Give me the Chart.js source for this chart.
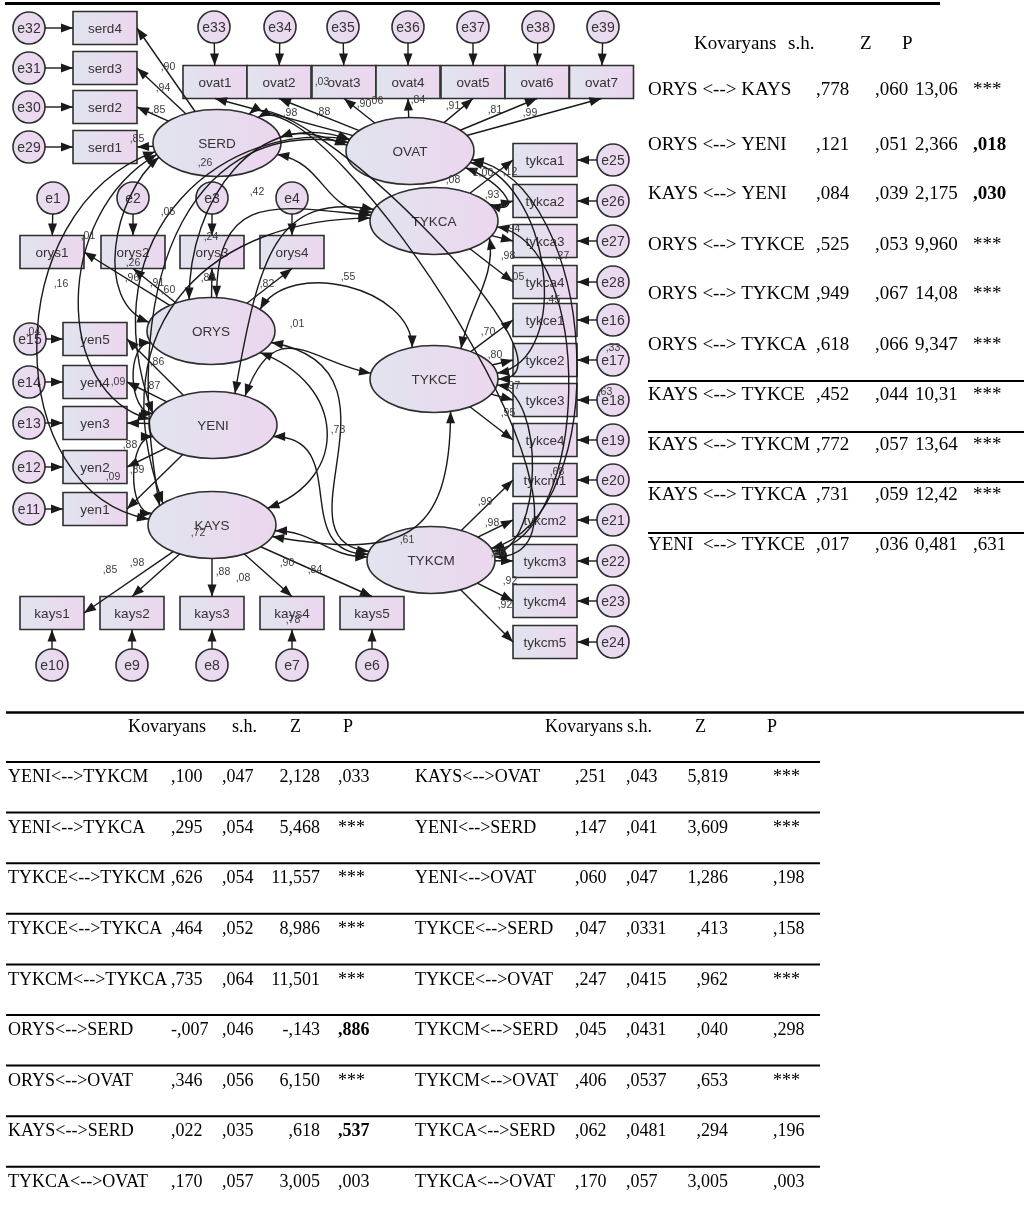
<!DOCTYPE html>
<html lang="tr">
<head>
<meta charset="utf-8">
<title>Kovaryans modeli</title>
<script src="https://cdn.jsdelivr.net/npm/chart.js@4.4.1/dist/chart.umd.min.js"></script>
<style>
html,body{margin:0;padding:0;background:#ffffff;}
canvas{display:block;}
</style>
</head>
<body>
<canvas id="sem" width="1024" height="1212"></canvas>
<script>
// ---------- latent factors ----------
const latentNames = ['SERD', 'OVAT', 'TYKCA', 'ORYS', 'TYKCE', 'YENI', 'KAYS', 'TYKCM'];
const latentX = [217, 410, 434, 211, 434, 213, 212, 431];
const latentY = [143, 151, 221, 331, 379, 425, 525, 560];

// ---------- observed indicators ----------
const indicatorNames = ['serd4', 'serd3', 'serd2', 'serd1',
  'ovat1', 'ovat2', 'ovat3', 'ovat4', 'ovat5', 'ovat6', 'ovat7',
  'tykca1', 'tykca2', 'tykca3', 'tykca4', 'tykce1', 'tykce2', 'tykce3', 'tykce4',
  'tykcm1', 'tykcm2', 'tykcm3', 'tykcm4', 'tykcm5',
  'orys1', 'orys2', 'orys3', 'orys4',
  'yen5', 'yen4', 'yen3', 'yen2', 'yen1',
  'kays1', 'kays2', 'kays3', 'kays4', 'kays5'];
const indicatorFactor = ['SERD', 'SERD', 'SERD', 'SERD',
  'OVAT', 'OVAT', 'OVAT', 'OVAT', 'OVAT', 'OVAT', 'OVAT',
  'TYKCA', 'TYKCA', 'TYKCA', 'TYKCA', 'TYKCE', 'TYKCE', 'TYKCE', 'TYKCE',
  'TYKCM', 'TYKCM', 'TYKCM', 'TYKCM', 'TYKCM',
  'ORYS', 'ORYS', 'ORYS', 'ORYS',
  'YENI', 'YENI', 'YENI', 'YENI', 'YENI',
  'KAYS', 'KAYS', 'KAYS', 'KAYS', 'KAYS'];
const indicatorX = [105, 105, 105, 105,
  215, 279, 344, 408, 473, 537, 601.5,
  545, 545, 545, 545, 545, 545, 545, 545,
  545, 545, 545, 545, 545,
  52, 133, 212, 292,
  95, 95, 95, 95, 95,
  52, 132, 212, 292, 372];
const indicatorY = [28, 68, 107, 147,
  82, 82, 82, 82, 82, 82, 82,
  160, 201, 241, 282, 320, 360, 400, 440,
  480, 520, 561, 601, 642,
  252, 252, 252, 252,
  339, 382, 423, 467, 509,
  613, 613, 613, 613, 613];

// ---------- error terms (one per indicator, same order) ----------
const errorNames = ['e32', 'e31', 'e30', 'e29',
  'e33', 'e34', 'e35', 'e36', 'e37', 'e38', 'e39',
  'e25', 'e26', 'e27', 'e28', 'e16', 'e17', 'e18', 'e19',
  'e20', 'e21', 'e22', 'e23', 'e24',
  'e1', 'e2', 'e3', 'e4',
  'e15', 'e14', 'e13', 'e12', 'e11',
  'e10', 'e9', 'e8', 'e7', 'e6'];
const errorX = [29, 29, 29, 29,
  214, 280, 343, 408, 473, 538, 603,
  613, 613, 613, 613, 613, 613, 613, 613,
  613, 613, 613, 613, 613,
  53, 133, 212, 292,
  30, 29, 29, 29, 29,
  52, 132, 212, 292, 372];
const errorY = [28, 68, 107, 147,
  27, 27, 27, 27, 27, 27, 27,
  160, 201, 241, 282, 320, 360, 400, 440,
  480, 520, 561, 601, 642,
  198, 198, 198, 198,
  339, 382, 423, 467, 509,
  665, 665, 665, 665, 665];

// ---------- factor covariances (double-headed paths) ----------
const covPairs = [
  ['SERD', 'OVAT'], ['SERD', 'TYKCA'], ['SERD', 'ORYS'], ['SERD', 'YENI'], ['SERD', 'KAYS'],
  ['SERD', 'TYKCE'], ['SERD', 'TYKCM'],
  ['OVAT', 'TYKCA'], ['OVAT', 'ORYS'], ['OVAT', 'YENI'], ['OVAT', 'KAYS'], ['OVAT', 'TYKCE'], ['OVAT', 'TYKCM'],
  ['TYKCA', 'ORYS'], ['TYKCA', 'YENI'], ['TYKCA', 'KAYS'], ['TYKCA', 'TYKCE'], ['TYKCA', 'TYKCM'],
  ['ORYS', 'YENI'], ['ORYS', 'KAYS'], ['ORYS', 'TYKCE'], ['ORYS', 'TYKCM'],
  ['TYKCE', 'YENI'], ['TYKCE', 'KAYS'], ['TYKCE', 'TYKCM'],
  ['YENI', 'KAYS'], ['YENI', 'TYKCM'],
  ['KAYS', 'TYKCM']];

// ---------- estimates printed on the diagram ----------
const estText = [',90', ',94', ',85', ',85', ',26',
  ',03', ',98', ',88', ',90', ',06', ',84', ',91', ',81', ',99', ',08',
  '1,00', ',12', ',93', ',94', ',98', ',27', ',05', ',45',
  ',70', ',80', ',33', ',97', ',63', ',95',
  ',68', ',99', ',98', ',96', ',92', ',92', ',61', ',73',
  ',01', ',16', ',26', ',96', ',91', ',60', ',83', ',24', ',05', ',42', ',82', ',01', ',55',
  ',04', ',09', ',87', ',86', ',88', ',89', ',09',
  ',72', ',85', ',98', ',88', ',08', ',90', ',84', ',78'];
const estX = [168, 163, 158, 137, 205,
  322, 290, 323, 364, 376, 418, 453, 495, 530, 453,
  483, 510, 492, 513, 508, 562, 517, 553,
  488, 495, 613, 513, 605, 508,
  557, 485, 492, 498, 510, 505, 407, 338,
  88, 61, 133, 132, 157, 168, 208, 211, 168, 257, 267, 297, 348,
  33, 118, 153, 157, 130, 137, 113,
  198, 110, 137, 223, 243, 287, 315, 293];
const estY = [67, 88, 110, 139, 163,
  82, 113, 112, 104, 101, 100, 106, 110, 113, 180,
  173, 172, 195, 229, 256, 256, 277, 300,
  332, 355, 348, 386, 392, 413,
  472, 502, 523, 553, 581, 605, 540, 430,
  236, 284, 263, 278, 283, 290, 278, 237, 212, 192, 284, 324, 277,
  332, 382, 386, 362, 445, 470, 477,
  533, 570, 563, 572, 578, 563, 570, 620];

// ---------- covariance table, upper right ----------
const topPairs = ['ORYS <--> KAYS', 'ORYS <--> YENI', 'KAYS <--> YENI', 'ORYS <--> TYKCE', 'ORYS <--> TYKCM',
  'ORYS <--> TYKCA', 'KAYS <--> TYKCE', 'KAYS <--> TYKCM', 'KAYS <--> TYKCA', 'YENI  <--> TYKCE'];
const topCov = [',778', ',121', ',084', ',525', ',949', ',618', ',452', ',772', ',731', ',017'];
const topSE = [',060', ',051', ',039', ',053', ',067', ',066', ',044', ',057', ',059', ',036'];
const topZ = ['13,06', '2,366', '2,175', '9,960', '14,08', '9,347', '10,31', '13,64', '12,42', '0,481'];
const topP = ['***', ',018', ',030', '***', '***', '***', '***', '***', '***', ',631'];
const topPBold = [false, true, true, false, false, false, false, false, false, false];

// ---------- covariance table, bottom (two halves) ----------
const leftPairs = ['YENI<-->TYKCM', 'YENI<-->TYKCA', 'TYKCE<-->TYKCM', 'TYKCE<-->TYKCA', 'TYKCM<-->TYKCA',
  'ORYS<-->SERD', 'ORYS<-->OVAT', 'KAYS<-->SERD', 'TYKCA<-->OVAT'];
const leftCov = [',100', ',295', ',626', ',464', ',735', '-,007', ',346', ',022', ',170'];
const leftSE = [',047', ',054', ',054', ',052', ',064', ',046', ',056', ',035', ',057'];
const leftZ = ['2,128', '5,468', '11,557', '8,986', '11,501', '-,143', '6,150', ',618', '3,005'];
const leftP = [',033', '***', '***', '***', '***', ',886', '***', ',537', ',003'];
const leftPBold = [false, false, false, false, false, true, false, true, false];

const rightPairs = ['KAYS<-->OVAT', 'YENI<-->SERD', 'YENI<-->OVAT', 'TYKCE<-->SERD', 'TYKCE<-->OVAT',
  'TYKCM<-->SERD', 'TYKCM<-->OVAT', 'TYKCA<-->SERD', 'TYKCA<-->OVAT'];
const rightCov = [',251', ',147', ',060', ',047', ',247', ',045', ',406', ',062', ',170'];
const rightSE = [',043', ',041', ',047', ',0331', ',0415', ',0431', ',0537', ',0481', ',057'];
const rightZ = ['5,819', '3,609', '1,286', ',413', ',962', ',040', ',653', ',294', '3,005'];
const rightP = ['***', '***', ',198', ',158', '***', ',298', '***', ',196', ',003'];

const tableHeader = ['Kovaryans', 's.h.', 'Z', 'P'];

// ---------- drawing layout ----------
const SHAPE = { rx: 64, ry: 33.5, w: 64, h: 33, r: 16 };
const INK = '#1a1a1a';
const FILL_L = '#e1e4ee', FILL_R = '#ecd6ef';
const DIAG_FONT = '"Liberation Sans", Arial, sans-serif';
const TAB_FONT = '"Liberation Serif", "Times New Roman", serif';

// side of each indicator that receives the loading arrow
const loadingPort = { SERD: 'R', OVAT: 'B', TYKCA: 'L', TYKCE: 'L', TYKCM: 'L', ORYS: 'B', YENI: 'R', KAYS: 'T' };
const portOverride = { kays1: 'R', orys1: 'R' };

// route of each covariance curve: [angleA, dirA, lenA, angleB, dirB, lenB]
const arcRoute = {
  'SERD|OVAT': [350, 340, 25, 190, 200, 25],
  'SERD|TYKCA': [20, 10, 50, 195, 180, 50],
  'SERD|ORYS': [155, 140, 60, 195, 200, 60],
  'SERD|YENI': [160, 150, 120, 190, 195, 100],
  'SERD|KAYS': [165, 160, 170, 190, 190, 150],
  'SERD|TYKCE': [300, 320, 60, 0, 0, 100],
  'SERD|TYKCM': [310, 330, 80, 355, 0, 150],
  'OVAT|TYKCA': [30, 20, 40, 330, 20, 40],
  'OVAT|ORYS': [200, 200, 100, 250, 270, 100],
  'OVAT|YENI': [200, 190, 120, 200, 250, 200],
  'OVAT|KAYS': [195, 190, 150, 215, 260, 250],
  'OVAT|TYKCE': [20, 10, 80, 350, 350, 80],
  'OVAT|TYKCM': [15, 10, 130, 340, 345, 130],
  'TYKCA|ORYS': [190, 185, 90, 275, 270, 110],
  'TYKCA|YENI': [200, 190, 100, 290, 280, 140],
  'TYKCA|KAYS': [185, 180, 150, 220, 250, 200],
  'TYKCA|TYKCE': [30, 80, 40, 295, 280, 40],
  'TYKCA|TYKCM': [10, 10, 100, 345, 350, 100],
  'ORYS|YENI': [160, 180, 25, 200, 180, 25],
  'ORYS|KAYS': [40, 20, 90, 330, 340, 90],
  'ORYS|TYKCE': [320, 300, 60, 250, 270, 60],
  'ORYS|TYKCM': [20, 10, 150, 195, 185, 100],
  'TYKCE|YENI': [190, 190, 60, 300, 290, 90],
  'TYKCE|KAYS': [75, 90, 130, 20, 10, 130],
  'TYKCE|TYKCM': [10, 10, 50, 350, 350, 50],
  'YENI|KAYS': [160, 180, 25, 200, 180, 25],
  'YENI|TYKCM': [20, 0, 80, 190, 180, 80],
  'KAYS|TYKCM': [10, 0, 40, 185, 180, 40]
};

const rad = d => d * Math.PI / 180;

const semPlugin = {
  id: 'semDiagram',
  afterDatasetsDraw(chart) {
    const ctx = chart.ctx;
    const xs = chart.scales.x, ys = chart.scales.y;
    const PX = v => xs.getPixelForValue(v);
    const PY = v => ys.getPixelForValue(v);

    // node centres come from the scatter elements
    const pos = {};
    const mL = chart.getDatasetMeta(0), mI = chart.getDatasetMeta(1), mE = chart.getDatasetMeta(2);
    latentNames.forEach((n, i) => { pos[n] = { x: mL.data[i].x, y: mL.data[i].y }; });
    indicatorNames.forEach((n, i) => { pos[n] = { x: mI.data[i].x, y: mI.data[i].y }; });
    errorNames.forEach((n, i) => { pos[n] = { x: mE.data[i].x, y: mE.data[i].y }; });

    const grad = (x0, x1) => {
      const g = ctx.createLinearGradient(x0, 0, x1, 0);
      g.addColorStop(0, FILL_L); g.addColorStop(1, FILL_R); return g;
    };

    ctx.save();
    ctx.lineJoin = 'miter';

    // ---- shapes ----
    ctx.lineWidth = 1.6;
    ctx.strokeStyle = '#2e2e2e';
    latentNames.forEach(n => {
      const p = pos[n];
      ctx.beginPath();
      ctx.ellipse(p.x, p.y, SHAPE.rx, SHAPE.ry, 0, 0, Math.PI * 2);
      ctx.fillStyle = grad(p.x - SHAPE.rx, p.x + SHAPE.rx);
      ctx.fill(); ctx.stroke();
    });
    indicatorNames.forEach(n => {
      const p = pos[n];
      ctx.beginPath();
      ctx.rect(p.x - SHAPE.w / 2, p.y - SHAPE.h / 2, SHAPE.w, SHAPE.h);
      ctx.fillStyle = grad(p.x - SHAPE.w / 2, p.x + SHAPE.w / 2);
      ctx.fill(); ctx.stroke();
    });
    errorNames.forEach(n => {
      const p = pos[n];
      ctx.beginPath();
      ctx.arc(p.x, p.y, SHAPE.r, 0, Math.PI * 2);
      const g = ctx.createLinearGradient(p.x - SHAPE.r, 0, p.x + SHAPE.r, 0);
      g.addColorStop(0, '#e6deef'); g.addColorStop(1, '#edd6f0');
      ctx.fillStyle = g;
      ctx.fill(); ctx.stroke();
    });

    // ---- shape captions ----
    ctx.fillStyle = '#333';
    ctx.textAlign = 'center';
    ctx.textBaseline = 'middle';
    ctx.font = '13.5px ' + DIAG_FONT;
    latentNames.forEach(n => ctx.fillText(n, pos[n].x, pos[n].y + 1));
    indicatorNames.forEach(n => ctx.fillText(n, pos[n].x, pos[n].y + 1));
    ctx.font = '14px ' + DIAG_FONT;
    errorNames.forEach(n => ctx.fillText(n, pos[n].x, pos[n].y + 1));

    // ---- helpers for paths ----
    const head = (tx, ty, fx, fy) => {
      const a = Math.atan2(ty - fy, tx - fx);
      const L = 12, W = 4.5;
      ctx.beginPath();
      ctx.moveTo(tx, ty);
      ctx.lineTo(tx - L * Math.cos(a) + W * Math.sin(a), ty - L * Math.sin(a) - W * Math.cos(a));
      ctx.lineTo(tx - L * Math.cos(a) - W * Math.sin(a), ty - L * Math.sin(a) + W * Math.cos(a));
      ctx.closePath();
      ctx.fill();
    };
    const clipEllipse = (c, dx, dy) => {
      const t = 1 / Math.sqrt((dx / SHAPE.rx) ** 2 + (dy / SHAPE.ry) ** 2);
      return { x: c.x + dx * t, y: c.y + dy * t };
    };
    const clipRect = (c, dx, dy) => {
      const t = Math.min(dx ? (SHAPE.w / 2) / Math.abs(dx) : Infinity, dy ? (SHAPE.h / 2) / Math.abs(dy) : Infinity);
      return { x: c.x + dx * t, y: c.y + dy * t };
    };
    const clipCircle = (c, dx, dy) => {
      const l = Math.hypot(dx, dy);
      return { x: c.x + dx / l * SHAPE.r, y: c.y + dy / l * SHAPE.r };
    };
    const arrow = (a, b) => {
      ctx.beginPath(); ctx.moveTo(a.x, a.y); ctx.lineTo(b.x, b.y); ctx.stroke();
      head(b.x, b.y, a.x, a.y);
    };
    const ellPt = (c, deg) => ({ x: c.x + SHAPE.rx * Math.cos(rad(deg)), y: c.y + SHAPE.ry * Math.sin(rad(deg)) });
    const push = (p, deg, len) => ({ x: p.x + len * Math.cos(rad(deg)), y: p.y + len * Math.sin(rad(deg)) });

    ctx.strokeStyle = INK;
    ctx.fillStyle = INK;
    ctx.lineWidth = 1.4;

    // ---- error -> indicator ----
    errorNames.forEach((e, i) => {
      const c = pos[e], r = pos[indicatorNames[i]];
      const s = clipCircle(c, r.x - c.x, r.y - c.y);
      const t = clipRect(r, c.x - r.x, c.y - r.y);
      arrow(s, t);
    });

    // ---- factor -> indicator loadings ----
    indicatorNames.forEach((n, i) => {
      const f = pos[indicatorFactor[i]], r = pos[n];
      const side = portOverride[n] || loadingPort[indicatorFactor[i]];
      const port = {
        x: r.x + (side === 'R' ? SHAPE.w / 2 : side === 'L' ? -SHAPE.w / 2 : 0),
        y: r.y + (side === 'B' ? SHAPE.h / 2 : side === 'T' ? -SHAPE.h / 2 : 0)
      };
      const s = clipEllipse(f, port.x - f.x, port.y - f.y);
      arrow(s, port);
    });

    // ---- factor covariances ----
    covPairs.forEach(([a, b]) => {
      const r = arcRoute[a + '|' + b];
      const p0 = ellPt(pos[a], r[0]), c1 = push(p0, r[1], r[2]);
      const p3 = ellPt(pos[b], r[3]), c2 = push(p3, r[4], r[5]);
      ctx.beginPath();
      ctx.moveTo(p0.x, p0.y);
      ctx.bezierCurveTo(c1.x, c1.y, c2.x, c2.y, p3.x, p3.y);
      ctx.stroke();
      head(p0.x, p0.y, c1.x, c1.y);
      head(p3.x, p3.y, c2.x, c2.y);
    });

    // ---- estimates ----
    ctx.fillStyle = '#3c3c3c';
    ctx.font = '10.5px ' + DIAG_FONT;
    ctx.textAlign = 'center';
    estText.forEach((t, i) => ctx.fillText(t, PX(estX[i]), PY(estY[i])));

    // ---- rules ----
    ctx.strokeStyle = '#000';
    const rule = (x0, x1, y, w) => {
      ctx.lineWidth = w;
      ctx.beginPath(); ctx.moveTo(PX(x0), PY(y)); ctx.lineTo(PX(x1), PY(y)); ctx.stroke();
    };
    rule(5, 940, 3.5, 3);

    // ---- upper-right table ----
    ctx.fillStyle = '#000';
    ctx.textBaseline = 'middle';
    const txt = (s, x, y, align, bold, size) => {
      ctx.font = (bold ? 'bold ' : '') + (size || 18) + 'px ' + TAB_FONT;
      ctx.textAlign = align;
      ctx.fillText(s, PX(x), PY(y));
    };
    const topHeadX = [694, 788, 860, 902];
    tableHeader.forEach((h, i) => txt(h, topHeadX[i], 44, 'left', false, 19));
    const topRowY = [90, 145, 194, 245, 294, 345, 395, 445, 495, 545];
    topPairs.forEach((p, i) => {
      const y = topRowY[i];
      txt(p, 648, y, 'left', false, 19);
      txt(topCov[i], 816, y, 'left', false, 19);
      txt(topSE[i], 875, y, 'left', false, 19);
      txt(topZ[i], 915, y, 'left', false, 19);
      txt(topP[i], 973, y, 'left', topPBold[i], 19);
    });
    [381, 432, 482, 533].forEach(y => rule(648, 1024, y, 2));

    // ---- bottom table ----
    rule(6, 1024, 712.5, 2.5);
    const leftHeadX = [128, 232, 290, 343];
    const rightHeadX = [545, 627, 695, 767];
    tableHeader.forEach((h, i) => { txt(h, leftHeadX[i], 727, 'left'); txt(h, rightHeadX[i], 727, 'left'); });
    leftPairs.forEach((p, i) => {
      const line = 762 + 50.6 * i;
      rule(6, 820, line, 2);
      const y = line + 15.5;
      txt(p, 8, y, 'left');
      txt(leftCov[i], 171, y, 'left');
      txt(leftSE[i], 222, y, 'left');
      txt(leftZ[i], 320, y, 'right');
      txt(leftP[i], 338, y, 'left', leftPBold[i]);
      txt(rightPairs[i], 415, y, 'left');
      txt(rightCov[i], 575, y, 'left');
      txt(rightSE[i], 626, y, 'left');
      txt(rightZ[i], 728, y, 'right');
      txt(rightP[i], 773, y, 'left');
    });

    ctx.restore();
  }
};

new Chart(document.getElementById('sem'), {
  type: 'scatter',
  data: {
    datasets: [
      { label: 'latent', data: latentX.map((x, i) => ({ x, y: latentY[i] })), pointRadius: 0 },
      { label: 'observed', data: indicatorX.map((x, i) => ({ x, y: indicatorY[i] })), pointRadius: 0 },
      { label: 'error', data: errorX.map((x, i) => ({ x, y: errorY[i] })), pointRadius: 0 }
    ]
  },
  options: {
    responsive: false,
    animation: false,
    devicePixelRatio: 1,
    events: [],
    layout: { padding: 0 },
    scales: {
      x: { type: 'linear', min: 0, max: 1024, display: false },
      y: { type: 'linear', min: 0, max: 1212, reverse: true, display: false }
    },
    plugins: { legend: { display: false }, tooltip: { enabled: false } }
  },
  plugins: [semPlugin]
});
</script>
</body>
</html>
